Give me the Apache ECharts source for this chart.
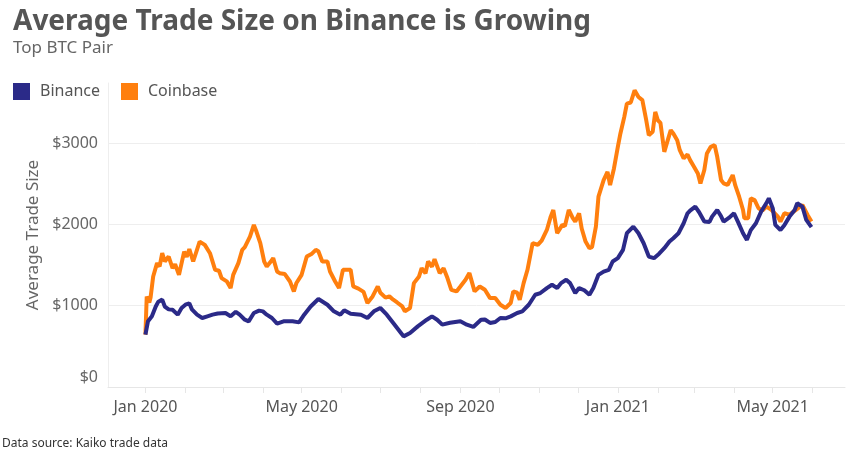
<!DOCTYPE html>
<html>
<head>
<meta charset="utf-8">
<script src="https://cdn.jsdelivr.net/npm/echarts@6/dist/echarts.min.js"></script>
<style>
html,body{margin:0;padding:0;background:#fff;}
#chart{width:854px;height:453px;}
</style>
</head>
<body>
<div id="chart"></div>
<script>
const titleText = 'Average Trade Size on Binance is Growing';
const subtitleText = 'Top BTC Pair';
const sourceText = 'Data source: Kaiko trade data';
const yAxisName = 'Average Trade Size';
const yTicks = [0, 1000, 2000, 3000];
const xLabelMonths = [0, 4, 8];
const monthNames = ['Jan','Feb','Mar','Apr','May','Jun','Jul','Aug','Sep','Oct','Nov','Dec'];

const binanceDates = ['2020-01-01','2020-01-03','2020-01-06','2020-01-09','2020-01-11','2020-01-14','2020-01-16','2020-01-19','2020-01-22','2020-01-26','2020-01-29','2020-02-01','2020-02-04','2020-02-06','2020-02-10','2020-02-14','2020-02-18','2020-02-22','2020-02-26','2020-03-03','2020-03-07','2020-03-11','2020-03-14','2020-03-18','2020-03-21','2020-03-25','2020-03-29','2020-04-01','2020-04-04','2020-04-08','2020-04-12','2020-04-17','2020-04-24','2020-04-29','2020-05-03','2020-05-08','2020-05-14','2020-05-21','2020-05-26','2020-05-31','2020-06-03','2020-06-08','2020-06-16','2020-06-21','2020-06-26','2020-07-01','2020-07-06','2020-07-11','2020-07-17','2020-07-19','2020-07-24','2020-07-30','2020-08-06','2020-08-10','2020-08-14','2020-08-18','2020-08-24','2020-09-01','2020-09-06','2020-09-11','2020-09-17','2020-09-20','2020-09-24','2020-09-28','2020-10-02','2020-10-06','2020-10-10','2020-10-15','2020-10-19','2020-10-24','2020-10-29','2020-11-02','2020-11-07','2020-11-11','2020-11-15','2020-11-18','2020-11-22','2020-11-25','2020-11-29','2020-12-02','2020-12-06','2020-12-10','2020-12-13','2020-12-17','2020-12-21','2020-12-25','2020-12-28','2021-01-01','2021-01-05','2021-01-08','2021-01-13','2021-01-17','2021-01-21','2021-01-25','2021-01-29','2021-02-02','2021-02-06','2021-02-10','2021-02-13','2021-02-17','2021-02-21','2021-02-24','2021-02-26','2021-03-02','2021-03-05','2021-03-09','2021-03-13','2021-03-15','2021-03-19','2021-03-22','2021-03-24','2021-03-28','2021-04-01','2021-04-04','2021-04-08','2021-04-11','2021-04-14','2021-04-18','2021-04-22','2021-04-26','2021-04-28','2021-05-01','2021-05-03','2021-05-07','2021-05-10','2021-05-14','2021-05-18','2021-05-20','2021-05-24','2021-05-27','2021-05-31'];
const binanceValues = [644,810,870,990,1050,1075,990,955,950,890,972,1012,1030,955,890,849,870,890,905,910,870,925,890,828,808,910,940,930,890,849,780,808,808,795,890,991,1082,1012,931,890,943,900,890,849,931,972,890,788,665,623,665,746,828,869,828,767,790,808,767,739,828,830,788,800,849,845,869,910,930,1012,1135,1156,1217,1258,1217,1278,1319,1278,1156,1217,1190,1135,1217,1380,1420,1442,1544,1585,1687,1892,1973,1892,1769,1605,1585,1640,1708,1789,1830,1892,2014,2137,2170,2219,2150,2035,2030,2096,2178,2100,2035,2080,2137,2035,1892,1810,1930,2014,2158,2260,2321,2200,1994,1932,1990,2096,2178,2260,2219,2055,1966];

const coinbaseDates = ['2020-01-01','2020-01-02','2020-01-04','2020-01-05','2020-01-07','2020-01-10','2020-01-12','2020-01-14','2020-01-16','2020-01-19','2020-01-22','2020-01-24','2020-01-27','2020-01-31','2020-02-02','2020-02-04','2020-02-07','2020-02-12','2020-02-16','2020-02-20','2020-02-24','2020-02-27','2020-02-29','2020-03-04','2020-03-07','2020-03-09','2020-03-13','2020-03-16','2020-03-18','2020-03-22','2020-03-25','2020-03-27','2020-03-30','2020-04-02','2020-04-04','2020-04-07','2020-04-09','2020-04-12','2020-04-14','2020-04-18','2020-04-22','2020-04-25','2020-04-27','2020-05-01','2020-05-05','2020-05-09','2020-05-12','2020-05-14','2020-05-17','2020-05-21','2020-05-23','2020-05-27','2020-05-30','2020-06-02','2020-06-08','2020-06-10','2020-06-14','2020-06-18','2020-06-21','2020-06-25','2020-06-29','2020-07-01','2020-07-05','2020-07-08','2020-07-11','2020-07-14','2020-07-18','2020-07-20','2020-07-24','2020-07-27','2020-07-31','2020-08-02','2020-08-05','2020-08-07','2020-08-10','2020-08-12','2020-08-16','2020-08-19','2020-08-22','2020-08-25','2020-08-29','2020-09-01','2020-09-05','2020-09-08','2020-09-12','2020-09-16','2020-09-20','2020-09-24','2020-09-28','2020-10-02','2020-10-06','2020-10-10','2020-10-12','2020-10-15','2020-10-17','2020-10-20','2020-10-23','2020-10-27','2020-10-31','2020-11-03','2020-11-07','2020-11-10','2020-11-12','2020-11-15','2020-11-19','2020-11-21','2020-11-24','2020-11-27','2020-11-29','2020-12-02','2020-12-04','2020-12-07','2020-12-10','2020-12-12','2020-12-15','2020-12-17','2020-12-21','2020-12-24','2020-12-26','2020-12-29','2021-01-01','2021-01-03','2021-01-06','2021-01-08','2021-01-11','2021-01-14','2021-01-17','2021-01-20','2021-01-23','2021-01-25','2021-01-28','2021-01-30','2021-02-01','2021-02-03','2021-02-06','2021-02-08','2021-02-11','2021-02-13','2021-02-16','2021-02-18','2021-02-21','2021-02-24','2021-02-26','2021-03-01','2021-03-04','2021-03-06','2021-03-09','2021-03-11','2021-03-14','2021-03-17','2021-03-19','2021-03-22','2021-03-24','2021-03-27','2021-03-31','2021-04-02','2021-04-05','2021-04-08','2021-04-09','2021-04-12','2021-04-14','2021-04-17','2021-04-20','2021-04-23','2021-04-26','2021-04-30','2021-05-05','2021-05-07','2021-05-10','2021-05-14','2021-05-19','2021-05-24','2021-05-28','2021-05-31'];
const coinbaseValues = [644,1114,1040,1100,1360,1524,1483,1646,1544,1605,1462,1510,1380,1666,1600,1695,1544,1789,1748,1646,1442,1430,1340,1300,1217,1380,1524,1687,1720,1850,1994,1912,1769,1544,1482,1540,1585,1421,1400,1390,1298,1176,1280,1380,1605,1640,1687,1670,1544,1544,1421,1298,1217,1442,1442,1237,1210,1170,1033,1114,1237,1160,1100,1115,1074,1040,991,931,972,1278,1360,1462,1400,1544,1480,1573,1401,1460,1340,1196,1176,1237,1319,1401,1176,1237,1196,1094,1094,1012,972,1033,1176,1160,1074,1278,1442,1769,1750,1800,1932,2096,2178,1892,1994,1980,2178,2080,2035,2137,1950,1789,1708,1720,1973,2341,2546,2648,2485,2689,2955,3119,3323,3487,3500,3650,3568,3530,3282,3098,3140,3384,3282,3250,2893,3000,3160,3120,3037,2914,2812,2860,2791,2710,2628,2505,2669,2873,2955,2975,2832,2546,2505,2485,2607,2480,2341,2178,2076,2076,2321,2300,2199,2170,2219,2180,2096,2035,2137,2120,2178,2239,2117,2035];

const FONT = '"Noto Sans", "DejaVu Sans", sans-serif';
const chart = echarts.init(document.getElementById('chart'));
const toPairs = (d, v) => d.map((x, i) => [x, v[i]]);

chart.setOption({
  backgroundColor: '#fff',
  animation: false,
  title: [
    { text: titleText, left: 13, top: 8, padding: 0, textStyle: { fontFamily: FONT, fontSize: 28, fontWeight: 'bold', color: '#555' } },
    { text: subtitleText, left: 13, top: 40, padding: 0, textStyle: { fontFamily: FONT, fontSize: 17, fontWeight: 'normal', color: '#666' } },
    { text: sourceText, left: 2, top: 438, padding: 0, textStyle: { fontFamily: FONT, fontSize: 12, fontWeight: 'normal', color: '#333' } }
  ],
  legend: {
    data: ['Binance', 'Coinbase'],
    left: 13, top: 83, padding: 0, icon: 'rect', itemWidth: 17, itemHeight: 17, itemGap: 21,
    textStyle: { fontFamily: FONT, fontSize: 16, color: '#555', padding: [0, 0, 0, 5] }
  },
  grid: { left: 108, right: 9, top: 83, bottom: 66 },
  xAxis: {
    type: 'time',
    min: '2019-12-03', max: '2021-06-26',
    minInterval: 28 * 86400000, maxInterval: 31 * 86400000,
    axisLine: { show: true, lineStyle: { color: '#e6e6e6' } },
    axisTick: { show: true, length: 6, lineStyle: { color: '#e6e6e6' } },
    splitLine: { show: false },
    axisLabel: {
      fontFamily: FONT, fontSize: 16, color: '#555', margin: 12, hideOverlap: false,
      formatter: function (v) {
        const d = new Date(v);
        if (d.getDate() !== 1 || xLabelMonths.indexOf(d.getMonth()) < 0) return '';
        return monthNames[d.getMonth()] + ' ' + d.getFullYear();
      }
    }
  },
  yAxis: {
    type: 'value', min: 0, max: 3740, interval: 1000,
    name: yAxisName, nameLocation: 'middle', nameGap: 54,
    nameTextStyle: { fontFamily: FONT, fontSize: 17, color: '#666' },
    axisLine: { show: true, lineStyle: { color: '#eeeeee' } },
    axisTick: { show: false },
    splitLine: { show: true, lineStyle: { color: ['#e6e6e6', '#eeeeee', '#eeeeee', '#eeeeee', 'rgba(0,0,0,0)'] } },
    axisLabel: {
      fontFamily: FONT, fontSize: 16, color: '#666', margin: 10, showMaxLabel: false,
      formatter: function (v) {
        if (yTicks.indexOf(v) < 0) return '';
        return v === 0 ? '{z|$0}' : '$' + v;
      },
      rich: { z: { fontFamily: FONT, fontSize: 16, color: '#666', padding: [0, 0, 20, 0] } }
    }
  },
  series: [
    { name: 'Coinbase', type: 'line', z: 2, showSymbol: false, data: toPairs(coinbaseDates, coinbaseValues),
      lineStyle: { width: 4, color: '#ff7f0e' }, itemStyle: { color: '#ff7f0e' } },
    { name: 'Binance', type: 'line', z: 3, showSymbol: false, data: toPairs(binanceDates, binanceValues),
      lineStyle: { width: 4, color: '#2b2a88' }, itemStyle: { color: '#2b2a88' } }
  ]
});
</script>
</body>
</html>
